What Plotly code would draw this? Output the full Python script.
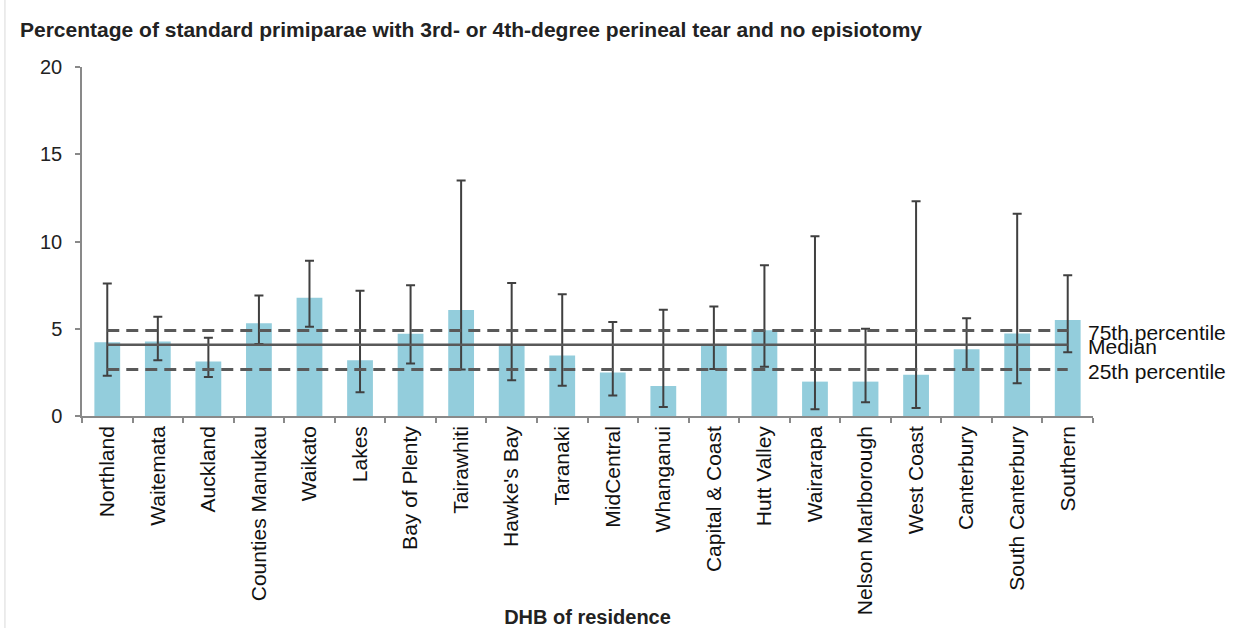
import plotly.graph_objects as go

categories = ["Northland", "Waitemata", "Auckland", "Counties Manukau", "Waikato", "Lakes",
              "Bay of Plenty", "Tairawhiti", "Hawke's Bay", "Taranaki", "MidCentral", "Whanganui",
              "Capital & Coast", "Hutt Valley", "Wairarapa", "Nelson Marlborough", "West Coast",
              "Canterbury", "South Canterbury", "Southern"]
rate = [4.22, 4.27, 3.12, 5.31, 6.78, 3.20, 4.71, 6.07, 4.04, 3.47, 2.49, 1.72,
        4.02, 4.92, 1.97, 1.97, 2.36, 3.83, 4.73, 5.50]
ci_upper = [7.60, 5.69, 4.48, 6.91, 8.90, 7.18, 7.49, 13.50, 7.62, 6.97, 5.38, 6.09,
            6.28, 8.64, 10.30, 5.00, 12.30, 5.60, 11.59, 8.07]
ci_lower = [2.30, 3.20, 2.24, 4.12, 5.11, 1.36, 3.01, 2.66, 2.05, 1.74, 1.17, 0.52,
            2.70, 2.82, 0.38, 0.79, 0.46, 2.66, 1.88, 3.66]
p75 = 4.90
median = 4.08
p25 = 2.66
yticks = [0, 5, 10, 15, 20]

err_plus = [u - v for u, v in zip(ci_upper, rate)]
err_minus = [v - l for v, l in zip(rate, ci_lower)]

fig = go.Figure()
fig.add_trace(go.Bar(
    x=categories, y=rate, marker=dict(color="#93CDDC", line=dict(width=0)),
    error_y=dict(type="data", array=err_plus, arrayminus=err_minus, symmetric=False,
                 color="#404040", thickness=2, width=4.5),
    showlegend=False, hoverinfo="x+y"))

line_col = "#595959"
for val, dash, w in [(p75, "12px,7px", 3), (p25, "12px,7px", 3), (median, "solid", 2.5)]:
    fig.add_trace(go.Scatter(x=categories, y=[val] * len(categories), mode="lines",
                             line=dict(color=line_col, width=w, dash=dash),
                             showlegend=False, hoverinfo="skip"))

for val, txt in [(p75, "75th percentile"), (median, "Median"), (p25, "25th percentile")]:
    fig.add_annotation(xref="paper", x=0.993, y=val, yref="y", text=txt, showarrow=False,
                       xanchor="left", yanchor="middle", yshift=-1.5,
                       font=dict(family="Liberation Sans, Arial", size=21, color="#111111"))

fig.add_shape(type="line", xref="paper", yref="paper", x0=-0.0762, x1=-0.0762, y0=-0.62, y1=1.2,
              line=dict(color="#d9d9d9", width=1))

fig.update_layout(
    width=1248, height=628,
    margin=dict(l=82, r=155, t=67, b=212),
    paper_bgcolor="white", plot_bgcolor="white",
    bargap=0.49,
    title=dict(text="<b>Percentage of standard primiparae with 3rd- or 4th-degree perineal tear and no episiotomy</b>",
               xref="container", yref="container", x=20 / 1248, y=1 - 30 / 628,
               xanchor="left", yanchor="middle",
               font=dict(family="Liberation Sans Narrow, Arial Narrow, Liberation Sans", size=21, color="#222222")),
    font=dict(family="Liberation Sans, Arial", color="#222222"),
)
fig.update_xaxes(
    type="category", tickangle=-90, tickson="boundaries", ticks="outside", ticklen=5,
    tickcolor="#898989", tickwidth=1.5, showline=True, linecolor="#898989", linewidth=1.5,
    showgrid=False, tickfont=dict(size=21, color="#111111"), automargin=False,
    title=dict(text="<b>DHB of residence</b>", font=dict(size=20, color="#222222"), standoff=5),
)
fig.update_yaxes(
    range=[0, 20], tickvals=yticks, ticks="outside", ticklen=5, tickcolor="#898989", tickwidth=1.5,
    showline=True, linecolor="#898989", linewidth=1.5, showgrid=False, zeroline=False,
    tickfont=dict(size=20, color="#222222"), automargin=False, ticklabelstandoff=9,
)

fig.write_html("out.html", post_script="document.body.style.margin='0';",
               config={"displayModeBar": False})
